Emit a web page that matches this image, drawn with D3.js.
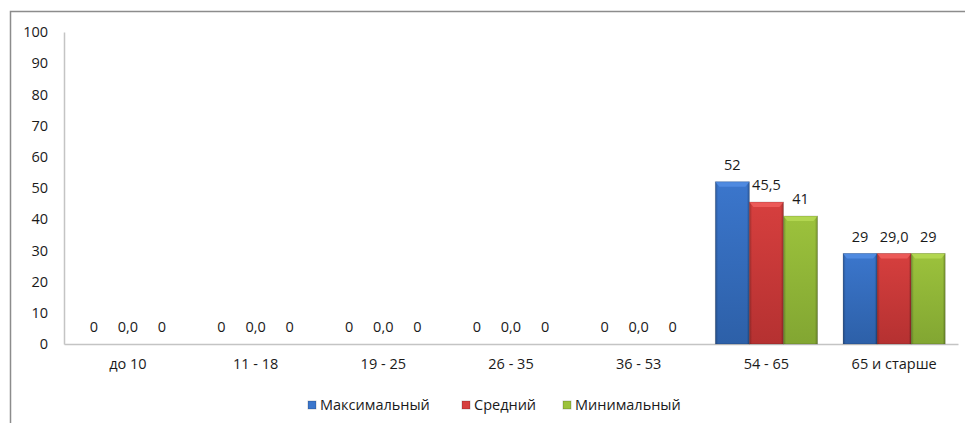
<!DOCTYPE html>
<html><head><meta charset="utf-8">
<script src="https://cdn.jsdelivr.net/npm/d3@7"></script>
<style>html,body{margin:0;padding:0;background:#fff;}svg{display:block;}</style>
</head><body>
<svg id="chart" width="965" height="423"></svg>
<script>
const categories = ["до 10", "11 - 18", "19 - 25", "26 - 35", "36 - 53", "54 - 65", "65 и старше"];
const seriesNames = ["Максимальный", "Средний", "Минимальный"];
const maxValues = [0, 0, 0, 0, 0, 52, 29];
const avgValues = [0, 0, 0, 0, 0, 45.5, 29.0];
const minValues = [0, 0, 0, 0, 0, 41, 29];
const labelDecimals = [0, 1, 0];
const yTicks = [0, 10, 20, 30, 40, 50, 60, 70, 80, 90, 100];
const seriesColors = [
  {top:"#4f8ae0", mid:"#3b76cc", bot:"#2d60a8"},
  {top:"#ec5a58", mid:"#d63f3e", bot:"#b53131"},
  {top:"#b2d650", mid:"#9cc23c", bot:"#82a632"}
];

const allSeries = [maxValues, avgValues, minValues];
const svg = d3.select("#chart");
const font = "'Open Sans', sans-serif";
const fs = 14.5;

// frame
svg.append("rect").attr("x",10.5).attr("y",11.5).attr("width",1000).attr("height",500)
  .attr("fill","none").attr("stroke","#8c8c8c").attr("stroke-width",1.5);

const m = {left:64, right:958, top:32, bottom:344};
const x = d3.scaleBand().domain(categories).range([m.left, m.right]).paddingInner(0).paddingOuter(0);
const inner = d3.scaleBand().domain(d3.range(3)).range([x.bandwidth()*0.1, x.bandwidth()*0.9]).padding(0);
const y = d3.scaleLinear().domain([0,100]).range([m.bottom, m.top]);

// gradients
const defs = svg.append("defs");
seriesColors.forEach((c,i)=>{
  const g = defs.append("linearGradient").attr("id","v"+i).attr("x1",0).attr("y1",0).attr("x2",0).attr("y2",1);
  g.append("stop").attr("offset","0%").attr("stop-color",c.mid);
  g.append("stop").attr("offset","100%").attr("stop-color",c.bot);
  const h = defs.append("linearGradient").attr("id","h"+i).attr("x1",0).attr("y1",0).attr("x2",1).attr("y2",0);
  h.append("stop").attr("offset","0%").attr("stop-color","#000").attr("stop-opacity",0.25);
  h.append("stop").attr("offset","8%").attr("stop-color","#000").attr("stop-opacity",0);
  h.append("stop").attr("offset","92%").attr("stop-color","#000").attr("stop-opacity",0);
  h.append("stop").attr("offset","100%").attr("stop-color","#000").attr("stop-opacity",0.25);
});

// y axis
const yAxis = d3.axisLeft(y).tickValues(yTicks).tickSize(0).tickPadding(0).tickFormat(d3.format("d"));
const ya = svg.append("g").attr("transform",`translate(${m.left},0)`).call(yAxis);
ya.select(".domain").attr("stroke","#c4c4c4").attr("stroke-width",1.5);
ya.selectAll("text").attr("x",-16).attr("font-family",font).attr("font-size",fs).attr("fill","#1a1a1a").attr("text-anchor","end");

// x axis
const xAxis = d3.axisBottom(x).tickSize(0).tickPadding(0);
const xa = svg.append("g").attr("transform",`translate(0,${m.bottom})`).call(xAxis);
xa.select(".domain").attr("stroke","#c4c4c4").attr("stroke-width",1.5);
xa.selectAll("text").attr("y",15).attr("font-family",font).attr("font-size",fs).attr("fill","#1a1a1a");

// bars
const groups = svg.append("g").selectAll("g").data(categories).join("g")
  .attr("transform",d=>`translate(${x(d)},0)`);
allSeries.forEach((vals,si)=>{
  groups.each(function(cat,ci){
    const v = vals[ci];
    const g = d3.select(this);
    const bx = inner(si), bw = inner.bandwidth();
    const top = y(v), h = y(0)-y(v);
    if (h > 0) {
      g.append("rect").attr("x",bx).attr("y",top).attr("width",bw).attr("height",h).attr("fill",`url(#v${si})`);
      g.append("rect").attr("x",bx).attr("y",top).attr("width",bw).attr("height",h).attr("fill",`url(#h${si})`);
      const bev = Math.min(5,h);
      g.append("path").attr("d",`M${bx},${top}L${bx+bw},${top}L${bx+bw-4},${top+bev}L${bx+4},${top+bev}Z`)
        .attr("fill",seriesColors[si].top);
      g.append("rect").attr("x",bx).attr("y",top).attr("width",bw).attr("height",h).attr("fill","none")
        .attr("stroke","#000").attr("stroke-opacity",0.15).attr("stroke-width",1);
    }
    const fmt = labelDecimals[si] ? d3.format(".1f") : d3.format("d");
    g.append("text").attr("x",bx+bw/2).attr("y",top-12)
      .attr("text-anchor","middle").attr("font-family",font).attr("font-size",fs).attr("fill","#1a1a1a")
      .text(fmt(v).replace(".",","));
  });
});

// legend
const legendX = [308, 462, 563];
const leg = svg.append("g").attr("transform","translate(0,405)");
seriesNames.forEach((n,i)=>{
  leg.append("rect").attr("x",legendX[i]).attr("y",-4).attr("width",8).attr("height",8)
    .attr("fill",seriesColors[i].mid).attr("stroke","#000").attr("stroke-opacity",0.2);
  leg.append("text").attr("x",legendX[i]+12).attr("y",5).attr("font-family",font).attr("font-size",fs)
    .attr("fill","#1a1a1a").text(n);
});
</script>
</body></html>
